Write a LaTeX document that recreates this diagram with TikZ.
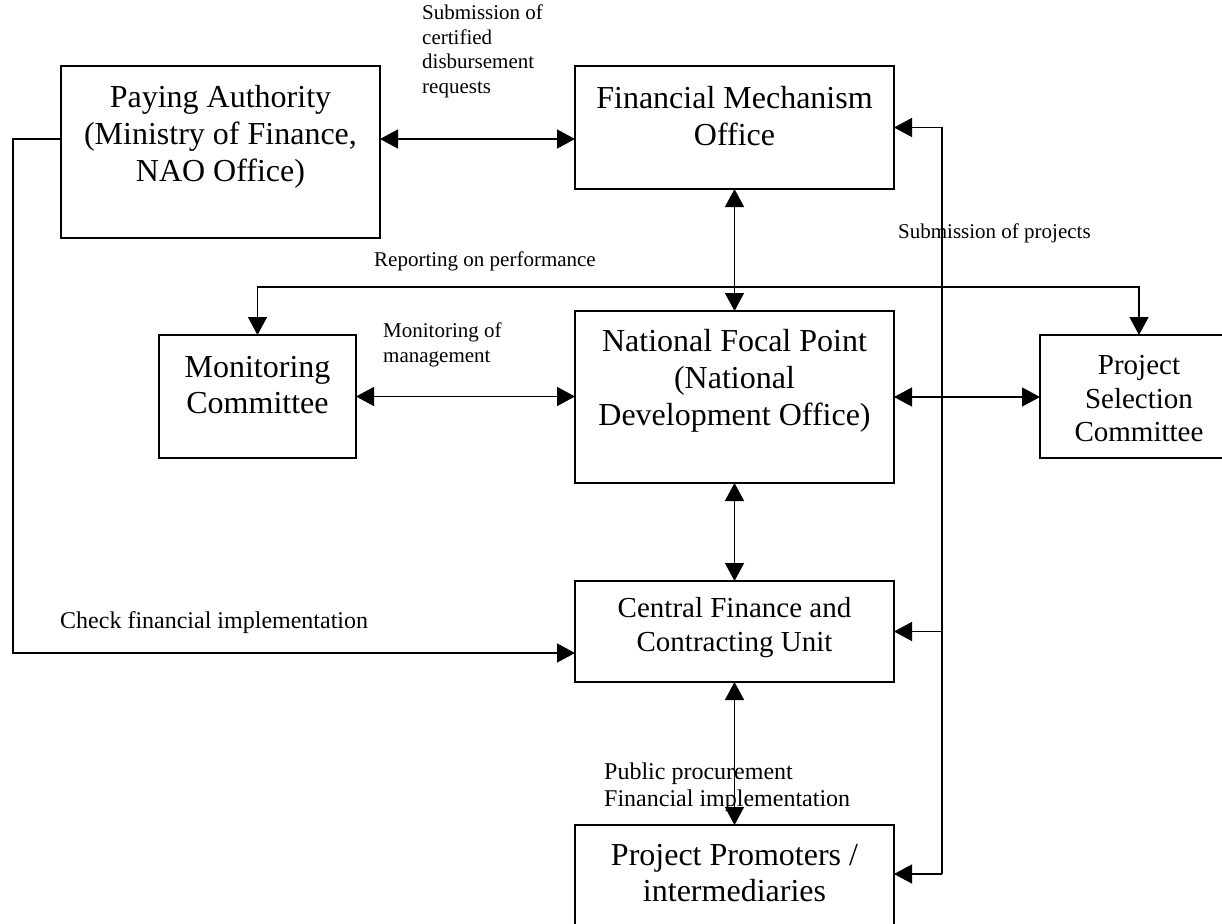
\documentclass[tikz,border=0pt]{standalone}
\usepackage{fontspec}
\setmainfont{Liberation Serif}
\usetikzlibrary{arrows.meta}
\begin{document}
\begin{tikzpicture}[x=1pt,y=-1pt,
  box/.style 2 args={draw,line width=1.7pt,inner sep=0pt,outer sep=0pt,minimum width=#1,minimum height=#2},
  big/.style={font=\fontsize{32}{36.8}\selectfont,align=center,inner sep=0pt},
  mid/.style={font=\fontsize{29}{33.5}\selectfont,align=center,inner sep=0pt},
  lab/.style={font=\fontsize{21}{24.4}\selectfont,align=left,inner sep=0pt},
  labL/.style={font=\fontsize{24}{27}\selectfont,align=left,inner sep=0pt},
  conn/.style={line width=1.4pt},
  ar/.style={conn,-{Triangle[length=18pt,width=19pt]}},
  dar/.style={conn,{Triangle[length=18pt,width=19pt]}-{Triangle[length=18pt,width=19pt]}}]
\clip (0,0) rectangle (1222,923);
\fill[white] (0,0) rectangle (1222,923);
% boxes
\node[box={319pt}{172pt}] (pa) at (220.5,152) {};
\node[big] (paT) at (220.5,137) {Paying Authority\\(Ministry of Finance,\\NAO Office)};
\node[box={319pt}{123pt}] (fmo) at (734.5,127.5) {};
\node[big] (fmoT) at (734.5,116) {Financial Mechanism\\Office};
\node[box={197pt}{123pt}] (mc) at (257.5,396.5) {};
\node[big] (mcT) at (257.5,385) {Monitoring\\Committee};
\node[box={319pt}{172pt}] (nfp) at (734.5,397) {};
\node[big] (nfpT) at (734.5,381) {National Focal Point\\(National\\Development Office)};
\node[box={198pt}{123pt}] (psc) at (1139,396.5) {};
\node[mid] (pscT) at (1139,399) {Project\\Selection\\Committee};
\node[box={319pt}{101pt}] (cfcu) at (734.5,631.5) {};
\node[mid] (cfcuT) at (734.5,627.5) {Central Finance and\\Contracting Unit};
\node[box={319pt}{102pt}] (pp) at (734.5,876) {};
\node[big] (ppT) at (734.5,873) {Project Promoters /\\intermediaries};
% connectors
\draw[dar] ([yshift=13pt]pa.east) -- ([yshift=13pt]pa.east -| fmo.west);
\draw[ar] ([yshift=13pt]pa.west) -- ++(-48,0) |- ([yshift=-21.5pt]cfcu.west);
\draw[dar] (fmo.south) -- (nfp.north);
\coordinate (rep) at (734.5,287);
\draw[ar] (rep) -| (mc.north);
\draw[ar] (rep) -| (psc.north);
\draw[dar] (mc.east) -- (mc.east -| nfp.west);
\draw[dar] (nfp.east) -- (nfp.east -| psc.west);
\draw[dar] (nfp.south) -- (cfcu.north);
\draw[dar] (cfcu.south) -- (pp.north);
\draw[ar] ([xshift=48pt,yshift=2pt]pp.east) |- (fmo.east);
\draw[ar] ([xshift=48pt,yshift=2pt]pp.east) -- ([yshift=2pt]pp.east);
\draw[ar] ([xshift=48pt]cfcu.east) -- (cfcu.east);
% labels
\node[lab,anchor=north west] (l1) at (422,5) {Submission of\\certified\\disbursement\\requests};
\node[lab,anchor=west] (l2) at (374,261) {Reporting on performance};
\node[lab,anchor=north west] (l3) at (383,323) {Monitoring of\\management};
\node[lab,anchor=west] (l4) at (898,233) {Submission of projects};
\node[labL,anchor=west] (l5) at (60,623) {Check financial implementation};
\node[labL,anchor=north west] (l6) at (604,763) {Public procurement\\Financial implementation};
\end{tikzpicture}
\end{document}
